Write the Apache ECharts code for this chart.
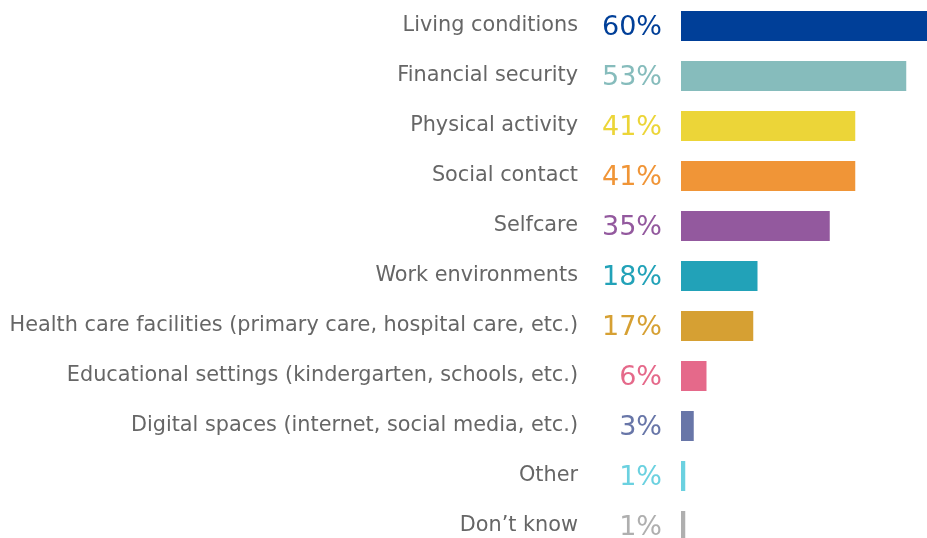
<!DOCTYPE html>
<html>
<head>
<meta charset="utf-8">
<script src="https://cdn.jsdelivr.net/npm/echarts@6/dist/echarts.min.js"></script>
<style>
  html, body { margin: 0; padding: 0; background: #fff; }
  #chart { width: 927px; height: 538px; }
</style>
</head>
<body>
<div id="chart"></div>
<script>
const categories = [
  "Living conditions",
  "Financial security",
  "Physical activity",
  "Social contact",
  "Selfcare",
  "Work environments",
  "Health care facilities (primary care, hospital care, etc.)",
  "Educational settings (kindergarten, schools, etc.)",
  "Digital spaces (internet, social media, etc.)",
  "Other",
  "Don\u2019t know",
]
const values = [60, 53, 41, 41, 35, 18, 17, 6, 3, 1, 1]
const colors = [
  "#003f98", "#86bcbc", "#ecd538", "#f09537", "#93599e", "#22a2b8",
  "#d6a033", "#e5698a", "#6876a8", "#6bd1e0", "#afafaf",
]

const font = "'DejaVu Sans', Verdana, sans-serif"

const chart = echarts.init(document.getElementById("chart"))

// bars run past the right/bottom edge in the original, so size the grid explicitly
chart.setOption({
  animation: false,
  grid: {
    left: 681,
    top: 1,
    width: 255,
    height: 550,
    containLabel: false,
    outerBoundsMode: "none",
  },
  xAxis: {
    type: "value",
    min: 0,
    max: 60,
    show: false,
  },
  yAxis: {
    type: "category",
    data: categories,
    inverse: true,
    axisLine: { show: false },
    axisTick: { show: false },
    axisLabel: {
      margin: 103,
      color: "#666666",
      fontFamily: font,
      fontSize: 20.8,
      padding: [7, 0, 0, 0],
    },
  },
  series: [
    {
      type: "bar",
      barWidth: 30,
      data: values.map((v, i) => ({
        value: v,
        itemStyle: { color: colors[i] },
        label: { color: colors[i] },
      })),
      label: {
        show: true,
        position: "left",
        distance: 19,
        offset: [0, 2],
        formatter: "{c}%",
        fontFamily: font,
        fontSize: 27,
      },
    },
  ],
})
</script>
</body>
</html>
